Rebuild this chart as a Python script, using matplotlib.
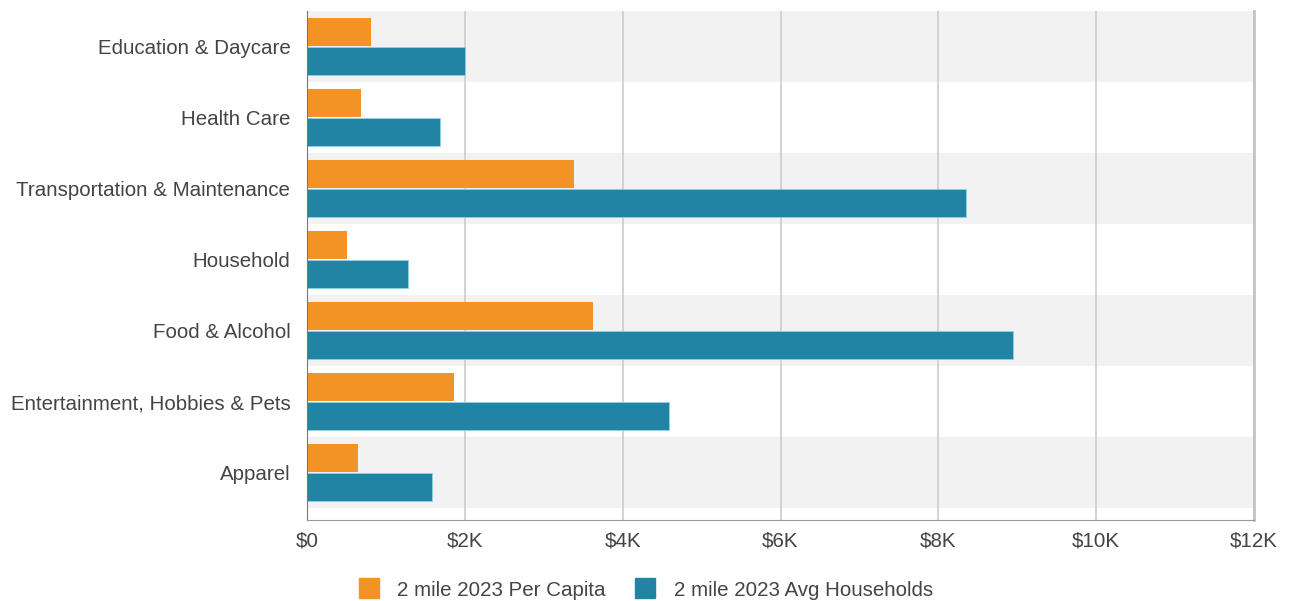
import matplotlib
matplotlib.use("Agg")
import matplotlib.pyplot as plt
import matplotlib.ticker as mticker
from matplotlib.lines import Line2D
import numpy as np

matplotlib.rcParams.update({
    "font.family": "sans-serif",
    "font.sans-serif": ["Liberation Sans", "DejaVu Sans"],
    "font.size": 14.8,
})

# ── data (values in $K) ───────────────────────────────────────────────────────
categories = [
    "Education & Daycare",
    "Health Care",
    "Transportation & Maintenance",
    "Household",
    "Food & Alcohol",
    "Entertainment, Hobbies & Pets",
    "Apparel",
]
per_capita = [0.81, 0.68, 3.38, 0.51, 3.62, 1.86, 0.64]
avg_households = [2.00, 1.68, 8.35, 1.28, 8.94, 4.59, 1.59]
series_labels = ["2 mile 2023 Per Capita", "2 mile 2023 Avg Households"]
x_ticks = [0, 2, 4, 6, 8, 10, 12]

C_ORANGE = "#f39325"
C_BLUE = "#2184a4"
C_BAND = "#f2f2f2"
C_GRID = "#cccccc"
C_TEXT = "#444444"
FS = 14.8

fig = plt.figure(figsize=(12.91, 6.01), dpi=100)
ax = fig.add_axes([307 / 1291, 1 - 520 / 601, (1254 - 307) / 1291, (520 - 11) / 601])

y = np.arange(len(categories))

# alternating background bands
for i in y[::2]:
    ax.axhspan(i - 0.5, i + 0.5, color=C_BAND, lw=0, zorder=0)

ax.barh(y - 0.205, per_capita, height=0.405, color=C_ORANGE, zorder=2)
ax.barh(y + 0.205, avg_households, height=0.405, color=C_BLUE,
        edgecolor="#8fd0e6", linewidth=0.6, zorder=2)

ax.set_xlim(0, 12)
ax.set_ylim(len(categories) - 0.5 + 12 / 71, -0.5)
ax.set_xticks(x_ticks)
ax.xaxis.set_major_formatter(mticker.FuncFormatter(
    lambda v, _: "$0" if v == 0 else f"${v:.0f}K"))
ax.set_yticks(y)
ax.set_yticklabels(categories)

ax.grid(axis="x", color=C_GRID, lw=1.2, zorder=1)
ax.set_axisbelow(True)
ax.tick_params(axis="both", length=0, colors=C_TEXT, labelsize=FS)
ax.tick_params(axis="y", pad=12)
ax.tick_params(axis="x", pad=8)

ax.spines["top"].set_visible(False)
ax.spines["left"].set_color("#777777")
ax.spines["bottom"].set_color("#999999")
ax.spines["right"].set_color("#c4c4c4")
ax.spines["right"].set_linewidth(2.0)

handles = [
    Line2D([], [], marker="s", ls="", markersize=15, color=C_ORANGE),
    Line2D([], [], marker="s", ls="", markersize=15, color=C_BLUE),
]
leg = fig.legend(handles, series_labels, loc="center", bbox_to_anchor=(0.5, 0.018),
                 ncol=2, frameon=False, fontsize=FS, handletextpad=0.9,
                 columnspacing=1.4, handlelength=1.0)
for t in leg.get_texts():
    t.set_color(C_TEXT)

fig.savefig("out.png", dpi=100)
